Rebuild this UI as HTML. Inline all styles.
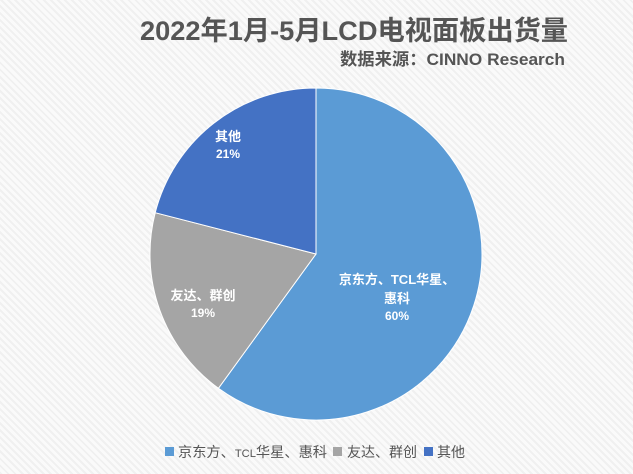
<!DOCTYPE html>
<html><head><meta charset="utf-8"><style>
body{margin:0;width:633px;height:474px;overflow:hidden;background:#f5f5f5;
background-image:repeating-linear-gradient(45deg,#f0f0f0 0 2px,#fafafa 2px 5px);
font-family:"Liberation Sans","Noto Sans CJK SC",sans-serif;}
</style></head><body>
<svg width="633" height="474" style="position:absolute;left:0;top:0">
<text x="140" y="40" font-size="27" font-weight="bold" fill="#555" textLength="428" lengthAdjust="spacingAndGlyphs" font-family="Liberation Sans,Noto Sans CJK SC,sans-serif">2022年1月-5月LCD电视面板出货量</text>
<text x="340" y="65" font-size="17" font-weight="bold" fill="#555" textLength="225" lengthAdjust="spacingAndGlyphs" font-family="Liberation Sans,Noto Sans CJK SC,sans-serif">数据来源：CINNO Research</text>
<path d="M316,254 L316,88 A166,166 0 1 1 218.4,388.3 Z" fill="#5B9BD5" stroke="#fff" stroke-width="1"/>
<path d="M316,254 L218.4,388.3 A166,166 0 0 1 155.2,212.7 Z" fill="#A5A5A5" stroke="#fff" stroke-width="1"/>
<path d="M316,254 L155.2,212.7 A166,166 0 0 1 316,88 Z" fill="#4472C4" stroke="#fff" stroke-width="1"/>
<g font-size="13" font-weight="bold" fill="#fff" text-anchor="middle" font-family="Liberation Sans,Noto Sans CJK SC,sans-serif">
<text x="397" y="284">京东方、TCL华星、</text>
<text x="397" y="303">惠科</text>
<text x="397" y="320" font-size="12">60%</text>
<text x="203" y="300">友达、群创</text>
<text x="203" y="317" font-size="12">19%</text>
<text x="228" y="141">其他</text>
<text x="228" y="158" font-size="12">21%</text>
</g>
<g font-size="14" fill="#555" font-family="Liberation Sans,Noto Sans CJK SC,sans-serif">
<rect x="165" y="447" width="9" height="9" fill="#5B9BD5"/>
<text x="178" y="457" textLength="149" lengthAdjust="spacingAndGlyphs">京东方、<tspan font-size="11">TCL</tspan>华星、惠科</text>
<rect x="333" y="447" width="9" height="9" fill="#A5A5A5"/>
<text x="347" y="457" textLength="70" lengthAdjust="spacingAndGlyphs">友达、群创</text>
<rect x="424" y="447" width="9" height="9" fill="#4472C4"/>
<text x="437" y="457" textLength="28" lengthAdjust="spacingAndGlyphs">其他</text>
</g>
</svg>
</body></html>
